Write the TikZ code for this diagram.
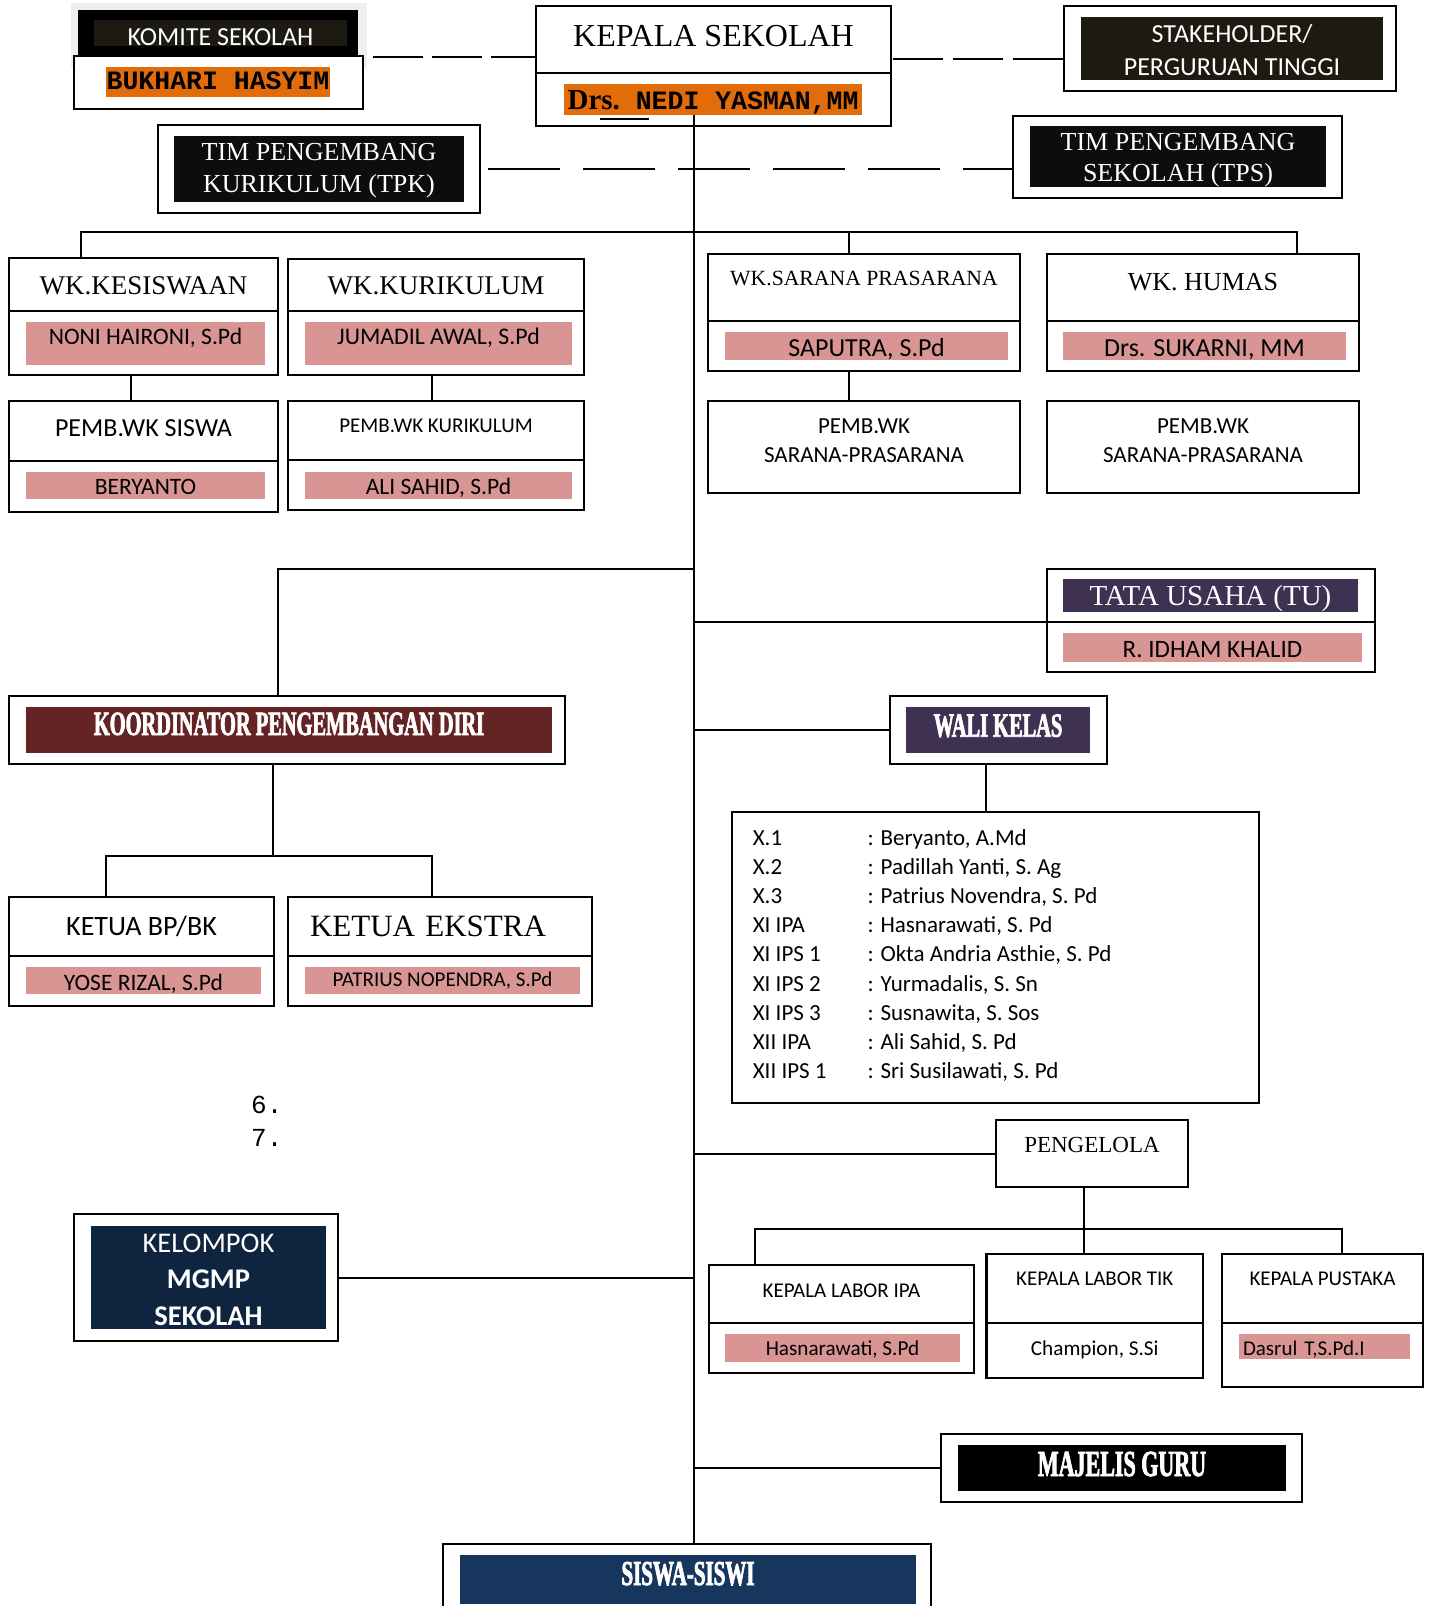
\documentclass[tikz,border=0pt]{standalone}
\usepackage{fontspec}
\setmainfont{Liberation Serif}
\newfontfamily\carlito{Carlito}
\newfontfamily\monofont{Liberation Mono}
\newfontfamily\condfont[FakeStretch=0.6,FakeBold=2]{Liberation Serif}
\usepackage{tikz}
\usetikzlibrary{positioning}
\definecolor{shadowgray}{HTML}{EFEFEF}
\definecolor{darkbg}{HTML}{1D1B11}
\definecolor{nearblack}{HTML}{0D0D0D}
\definecolor{orangeband}{HTML}{E36C0A}
\definecolor{pinkband}{HTML}{D99594}
\definecolor{maroon}{HTML}{632423}
\definecolor{purpleband}{HTML}{3F3151}
\definecolor{navy}{HTML}{0F243E}
\definecolor{bluenavy}{HTML}{17365D}
\newcommand{\fsz}[2]{\fontsize{#1}{#2}\selectfont}
\tikzset{
  box/.style={draw, line width=2.2pt, fill=white, inner sep=0pt, outer sep=0pt, anchor=north west},
  band/.style={inner sep=0pt, outer sep=0pt, anchor=north west},
  link/.style={line width=2pt},
  tb/.style={text height=#1, text depth=0pt}
}
\begin{document}
\begin{tikzpicture}[x=1pt, y=-1pt]
\useasboundingbox (0,0) rectangle (1428,1606);

\node[band, fill=shadowgray, minimum width=296pt, minimum height=65pt] (komshadow) at (71,3) {};
\node[band, fill=black, minimum width=280pt, minimum height=45pt] (komite) at (78,10) {};
\node[band, fill=darkbg, text=white, minimum width=253pt, minimum height=26pt, tb=24pt, font=\carlito\fsz{26}{26}] (komitelbl) at (94,20) {KOMITE SEKOLAH};
\node[box, minimum width=289pt, minimum height=53pt] (komname) at (74,56) {};
\node[band, fill=orangeband, minimum width=224pt, minimum height=30pt, tb=14.6pt, font=\monofont\bfseries\fsz{26.5}{26.5}] (komnamelbl) at (106,67) {BUKHARI HASYIM};

\node[box, minimum width=355pt, minimum height=67pt, tb=14.4pt, font=\fsz{32}{32}] (kepala) at (536,6) {KEPALA SEKOLAH};
\node[box, below=0pt of kepala, minimum width=355pt, minimum height=53pt] (kepname) {};
\node[band, fill=orangeband, minimum width=298pt, minimum height=31pt, tb=19.6pt] (kepnamelbl) at (564,84) {{\bfseries\fsz{29}{29}Drs.}{\monofont\bfseries\fsz{26.5}{26.5}\ NEDI YASMAN,MM}};
\draw[line width=1.5pt] (600,119) -- (649,119);

\node[box, minimum width=332pt, minimum height=85pt] (stake) at (1064,6) {};
\node[band, fill=darkbg, text=white, minimum width=302pt, minimum height=63pt, tb=53pt, font=\carlito\fsz{26}{32.3}] (stakelbl) at (1081,17) {\begin{tabular}[b]{@{}c@{}}STAKEHOLDER/\\PERGURUAN TINGGI\end{tabular}};

\node[box, minimum width=322pt, minimum height=88pt] (tpk) at (158,125) {};
\node[band, fill=nearblack, text=white, minimum width=290pt, minimum height=66pt, tb=47.4pt, font=\fsz{26}{32}] (tpklbl) at (174,136) {\begin{tabular}[b]{@{}c@{}}TIM PENGEMBANG\\KURIKULUM (TPK)\end{tabular}};
\node[box, minimum width=329pt, minimum height=82pt] (tps) at (1013,116) {};
\node[band, fill=nearblack, text=white, minimum width=296pt, minimum height=61pt, tb=50.4pt, font=\fsz{26}{31}] (tpslbl) at (1030,126) {\begin{tabular}[b]{@{}c@{}}TIM PENGEMBANG\\SEKOLAH (TPS)\end{tabular}};

\coordinate (komtap) at (367,57);
\coordinate (staketap) at ([yshift=-10.5pt]stake.west);
\draw[link, dash pattern=on 50pt off 9pt, dash phase=53pt] (komtap) -- (komtap -| kepala.west);
\draw[link, dash pattern=on 50pt off 10pt, dash phase=58pt] (kepala.east |- staketap) -- (staketap);
\draw[link, dash pattern=on 72pt off 23pt, dash phase=87pt] (tpk.east) -- (tpk.east -| tps.west);

\node[box, minimum width=269pt, minimum height=53pt, tb=19pt, font=\fsz{27}{27}] (kes) at (9,258) {WK.KESISWAAN};
\node[box, below=0pt of kes, minimum width=269pt, minimum height=64pt] (kesname) {};
\node[band, fill=pinkband, minimum width=239pt, minimum height=43pt, tb=1pt, font=\carlito\fsz{23.6}{23.6}] (kesnamelbl) at (26,322) {NONI HAIRONI, S.Pd};
\node[box, minimum width=296pt, minimum height=52pt, tb=18pt, font=\fsz{27}{27}] (kur) at (288,259) {WK.KURIKULUM};
\node[box, below=0pt of kur, minimum width=296pt, minimum height=64pt] (kurname) {};
\node[band, fill=pinkband, minimum width=267pt, minimum height=43pt, tb=1pt, font=\carlito\fsz{23.8}{23.8}] (kurnamelbl) at (305,322) {JUMADIL AWAL, S.Pd};
\node[box, minimum width=312pt, minimum height=67pt, text height=0pt, text depth=5pt, font=\fsz{21.7}{21.7}] (sarana) at (708,254) {WK.SARANA PRASARANA};
\node[box, below=0pt of sarana, minimum width=312pt, minimum height=50pt] (sarananame) {};
\node[band, fill=pinkband, minimum width=283pt, minimum height=28pt, tb=21.4pt, font=\carlito\fsz{26}{26}] (saranalbl) at (725,332) {SAPUTRA, S.Pd};
\node[box, minimum width=312pt, minimum height=67pt, tb=5pt, font=\fsz{26}{26}] (humas) at (1047,254) {WK. HUMAS};
\node[box, below=0pt of humas, minimum width=312pt, minimum height=50pt] (humasname) {};
\node[band, fill=pinkband, minimum width=283pt, minimum height=28pt, tb=21.4pt, font=\carlito\fsz{26}{26}] (humaslbl) at (1063,332) {Drs. SUKARNI, MM};

\node[box, minimum width=269pt, minimum height=60pt, tb=10pt, font=\carlito\fsz{26}{26}] (pembsiswa) at (9,401) {PEMB.WK SISWA};
\node[box, below=0pt of pembsiswa, minimum width=269pt, minimum height=51pt] (pembsiswaname) {};
\node[band, fill=pinkband, minimum width=239pt, minimum height=27pt, tb=17.6pt, font=\carlito\fsz{23.5}{23.5}] (pembsiswalbl) at (26,472) {BERYANTO};
\node[box, minimum width=296pt, minimum height=59pt, tb=3pt, font=\carlito\fsz{21}{21}] (pembkur) at (288,401) {PEMB.WK KURIKULUM};
\node[box, below=0pt of pembkur, minimum width=296pt, minimum height=50pt] (pembkurname) {};
\node[band, fill=pinkband, minimum width=267pt, minimum height=27pt, tb=17pt, font=\carlito\fsz{23.5}{23.5}] (pembkurlbl) at (305,472) {ALI SAHID, S.Pd};
\node[box, minimum width=312pt, minimum height=92pt, tb=31.4pt, font=\carlito\fsz{23}{29.4}] (pembsar) at (708,401) {\begin{tabular}[b]{@{}c@{}}PEMB.WK\\SARANA-PRASARANA\end{tabular}};
\node[box, minimum width=312pt, minimum height=92pt, tb=31.4pt, font=\carlito\fsz{23}{29.4}] (pembhum) at (1047,401) {\begin{tabular}[b]{@{}c@{}}PEMB.WK\\SARANA-PRASARANA\end{tabular}};

\coordinate (top) at (694,115);
\coordinate (bar) at (694,232);
\draw[link] ([xshift=-63pt]kes.north) |- ([xshift=94pt]humas.north |- bar) -- ([xshift=94pt]humas.north);
\draw[link] ([xshift=-15pt]sarana.north) -- ([xshift=-15pt]sarana.north |- bar);
\draw[link] ([xshift=-13pt]kesname.south) -- ([xshift=-13pt]pembsiswa.north);
\draw[link] ([xshift=-4pt]kurname.south) -- ([xshift=-4pt]pembkur.north);
\draw[link] ([xshift=-15pt]sarananame.south) -- ([xshift=-15pt]pembsar.north);

\node[box, minimum width=328pt, minimum height=53pt] (tu) at (1047,569) {};
\node[box, below=0pt of tu, minimum width=328pt, minimum height=50pt] (tuname) {};
\node[band, fill=purpleband, text=white, minimum width=295pt, minimum height=33pt, tb=20.4pt, font=\fsz{29}{29}] (tulbl) at (1063,579) {TATA USAHA (TU)};
\node[band, fill=pinkband, minimum width=299pt, minimum height=29pt, tb=19.6pt, font=\carlito\fsz{25}{25}] (tunamelbl) at (1063,633) {R. IDHAM KHALID};
\draw[link] (tu.south west) -- (tu.south west -| top);

\node[box, minimum width=217pt, minimum height=68pt] (wali) at (890,696) {};
\node[band, fill=purpleband, text=white, minimum width=184pt, minimum height=46pt, tb=13.4pt, font=\condfont\bfseries\fsz{34}{34}] (walilbl) at (906,707) {WALI KELAS};
\draw[link] (wali.west) -- (wali.west -| top);
\node[box, minimum width=527pt, minimum height=291pt] (kelas) at (732,812) {};
\draw[link] ([xshift=-12.5pt]wali.south) -- ([xshift=-12.5pt]wali.south |- kelas.north);
\node[anchor=base west, inner sep=0pt, font=\carlito\fsz{23}{29.2}] (kelaslist) at (752.6,845) {\begin{tabular}[t]{@{}p{114.7pt}@{}l@{}}
X.1 & : Beryanto, A.Md\\
X.2 & : Padillah Yanti, S. Ag\\
X.3 & : Patrius Novendra, S. Pd\\
XI IPA & : Hasnarawati, S. Pd\\
XI IPS 1 & : Okta Andria Asthie, S. Pd\\
XI IPS 2 & : Yurmadalis, S. Sn\\
XI IPS 3 & : Susnawita, S. Sos\\
XII IPA & : Ali Sahid, S. Pd\\
XII IPS 1 & : Sri Susilawati, S. Pd
\end{tabular}};

\node[box, minimum width=556pt, minimum height=68pt] (koord) at (9,696) {};
\node[band, fill=maroon, text=white, minimum width=526pt, minimum height=46pt, tb=10pt, font=\condfont\bfseries\fsz{34}{34}] (koordlbl) at (26,707) {KOORDINATOR PENGEMBANGAN DIRI};
\draw[link] ([xshift=-9pt]koord.north) |- (694,569);
\draw[link] ([xshift=-14pt]koord.south) -- ++(0,92) coordinate (koordjoin);

\node[box, minimum width=265pt, minimum height=59pt, tb=18.4pt, font=\carlito\fsz{28}{28}] (bp) at (9,897) {KETUA BP/BK};
\node[box, below=0pt of bp, minimum width=265pt, minimum height=50pt] (bpname) {};
\node[band, fill=pinkband, minimum width=235pt, minimum height=27pt, tb=19pt, font=\carlito\fsz{23.5}{23.5}] (bpnamelbl) at (26,967) {YOSE RIZAL, S.Pd};
\node[box, minimum width=304pt, minimum height=59pt, tb=20.4pt, text width=260pt, align=left, inner xsep=22pt, font=\fsz{31}{31}] (ekstra) at (288,897) {KETUA EKSTRA};
\node[box, below=0pt of ekstra, minimum width=304pt, minimum height=50pt] (ekstraname) {};
\node[band, fill=pinkband, minimum width=275pt, minimum height=27pt, tb=12.4pt, font=\carlito\fsz{21}{21}] (ekstranamelbl) at (305,967) {PATRIUS NOPENDRA, S.Pd};
\draw[link] ([xshift=-35.5pt]bp.north) |- (koordjoin) -| ([xshift=-8pt]ekstra.north);

\node[anchor=base west, inner sep=0pt, font=\monofont\fsz{26}{26}] (num6) at (251,1113) {6.};
\node[anchor=base west, inner sep=0pt, font=\monofont\fsz{26}{26}] (num7) at (251,1146.7) {7.};

\node[box, minimum width=192pt, minimum height=67pt, text height=0pt, text depth=1.6pt, font=\fsz{23}{23}] (peng) at (996,1120) {PENGELOLA};
\draw[link] (peng.west) -- (peng.west -| top);
\node[box, minimum width=265pt, minimum height=58pt, tb=6.6pt, font=\carlito\fsz{21}{21}] (ipa) at (709,1265) {KEPALA LABOR IPA};
\node[box, below=0pt of ipa, minimum width=265pt, minimum height=50pt] (ipaname) {};
\node[band, fill=pinkband, minimum width=235pt, minimum height=28pt, tb=14pt, font=\carlito\fsz{21.2}{21.2}] (ipanamelbl) at (725,1334) {Hasnarawati, S.Pd};
\node[box, minimum width=216.5pt, minimum height=69pt, text height=0pt, text depth=7pt, font=\carlito\fsz{21}{21}] (tik) at (986.5,1254) {KEPALA LABOR TIK};
\node[box, below=0pt of tik, minimum width=216.5pt, minimum height=55pt, tb=9pt, font=\carlito\fsz{21.2}{21.2}] (tikname) {Champion, S.Si};
\node[box, minimum width=201pt, minimum height=69pt, text height=0pt, text depth=7pt, font=\carlito\fsz{21}{21}] (pus) at (1222,1254) {KEPALA PUSTAKA};
\node[box, below=0pt of pus, minimum width=201pt, minimum height=64pt] (pusname) {};
\node[band, fill=pinkband, minimum width=171pt, minimum height=25pt, tb=17pt, text width=163pt, align=left, inner xsep=4pt, font=\carlito\fsz{21}{21}] (pusnamelbl) at (1239,1334) {Dasrul T,S.Pd.I};
\draw[link] ([xshift=-8pt]peng.south) -- ++(0,42) coordinate (pengjoin) -- (pengjoin |- tik.north);
\draw[link] ([xshift=-87pt]ipa.north) |- (pengjoin) -| ([xshift=19.3pt]pus.north);

\node[box, minimum width=264pt, minimum height=127pt] (mgmp) at (74,1214) {};
\node[band, fill=navy, text=white, minimum width=235pt, minimum height=103pt, tb=95pt, font=\carlito\fsz{28.5}{36.2}] (mgmplbl) at (91,1226) {\begin{tabular}[b]{@{}c@{}}KELOMPOK\\\textbf{MGMP}\\\textbf{SEKOLAH}\end{tabular}};
\draw[link] (mgmp.east) -- (mgmp.east -| top);

\node[box, minimum width=361pt, minimum height=68pt] (majelis) at (941,1434) {};
\node[band, fill=black, text=white, minimum width=328pt, minimum height=46pt, tb=16pt, font=\condfont\bfseries\fsz{36.7}{36.7}] (majelislbl) at (958,1445) {MAJELIS GURU};
\draw[link] (majelis.west) -- (majelis.west -| top);

\node[box, minimum width=488pt, minimum height=90pt] (siswa) at (443,1544) {};
\node[band, fill=bluenavy, text=white, minimum width=456pt, minimum height=49pt, tb=11pt, font=\condfont\bfseries\fsz{35}{35}] (siswalbl) at (460,1555) {SISWA-SISWI};
\draw[link] (top) -- (top |- siswa.north);
\end{tikzpicture}
\end{document}
